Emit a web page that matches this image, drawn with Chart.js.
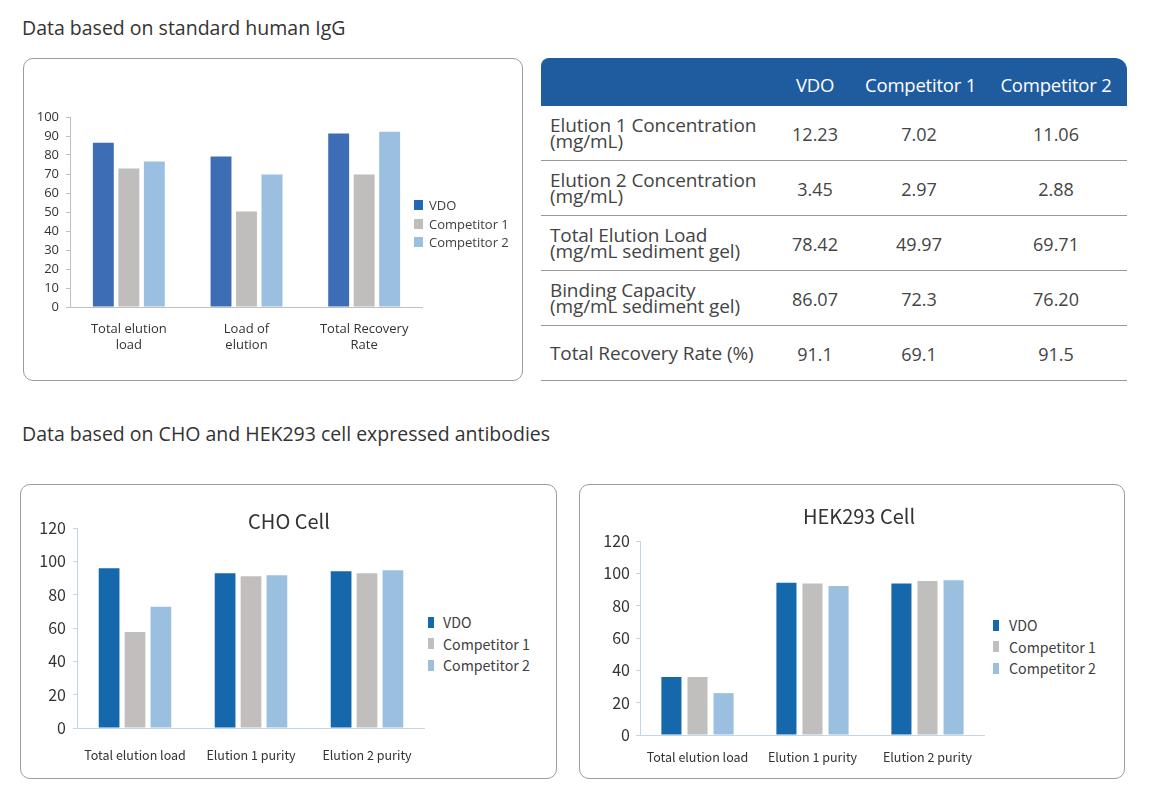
<!DOCTYPE html>
<html>
<head>
<meta charset="utf-8">
<script src="https://cdn.jsdelivr.net/npm/chart.js@4.4.1/dist/chart.umd.min.js"></script>
<style>
  body { margin: 0; background: #fff; width: 1171px; height: 804px; position: relative; overflow: hidden; font-family: "Open Sans", sans-serif; color: #333; }
  .abs { position: absolute; }
  .heading { font-size: 19.5px; color: #333; white-space: nowrap; }
  .box { border: 1px solid #9c9c9c; border-radius: 10px; box-sizing: border-box; }
  .legend div { position: absolute; white-space: nowrap; }
  .legend span { position: absolute; }
  .title { font-family: "Noto Sans CJK SC", sans-serif; font-size: 20px; color: #333; white-space: nowrap; transform: translate(-50%, -50%); }
  table { position: absolute; left: 541px; top: 58px; width: 586px; border-collapse: collapse; table-layout: fixed; font-size: 18px; color: #444; }
  th { background: #1f5b9f; color: #fff; font-weight: normal; height: 44px; text-align: center; padding: 4px 0 0 0; font-size: 18.5px; white-space: nowrap; letter-spacing: -0.2px; }
  th:first-child { border-top-left-radius: 8px; }
  th:last-child { border-top-right-radius: 12px; }
  td { height: 52px; border-bottom: 1px solid #999; padding: 2px 0 0 0; text-align: center; }
  td.lbl { text-align: left; padding: 1px 0 1px 9px; line-height: 16px; white-space: nowrap; font-size: 19px; letter-spacing: -0.1px; }
  td.last { padding-left: 12px; }
</style>
</head>
<body>

<div class="abs heading" style="left:22px; top:14px;">Data based on standard human IgG</div>
<div class="abs heading" style="left:22px; top:420px;">Data based on CHO and HEK293 cell expressed antibodies</div>

<div class="abs box" style="left:23px; top:58px; width:500px; height:323px;"></div>
<div class="abs box" style="left:20px; top:484px; width:537px; height:295px;"></div>
<div class="abs box" style="left:579px; top:484px; width:546px; height:295px;"></div>

<canvas id="igChart" class="abs" width="403" height="260" style="left:20px; top:100px;"></canvas>
<canvas id="choChart" class="abs" width="398" height="270" style="left:27px; top:500px;"></canvas>
<canvas id="hekChart" class="abs" width="395" height="266" style="left:590px; top:511px;"></canvas>

<div class="abs title" style="left:289px; top:520px;">CHO Cell</div>
<div class="abs title" style="left:859px; top:515px;">HEK293 Cell</div>

<div id="igLegend" class="abs legend"></div>
<div id="choLegend" class="abs legend"></div>
<div id="hekLegend" class="abs legend"></div>

<table id="dataTable"></table>

<script>
// series names
const groups = ['VDO', 'Competitor 1', 'Competitor 2'];

// standard human IgG chart
const igCategories = [['Total elution', 'load'], ['Load of', 'elution'], ['Total Recovery', 'Rate']];
const igVdo = [86.5, 79.2, 91.3];
const igComp1 = [72.9, 50.3, 69.8];
const igComp2 = [76.6, 69.8, 92.3];

// CHO cell chart
const cellCategories = ['Total elution load', 'Elution 1 purity', 'Elution 2 purity'];
const choVdo = [95.9, 92.9, 94.1];
const choComp1 = [57.6, 91.1, 92.9];
const choComp2 = [72.8, 91.7, 94.7];

// HEK293 cell chart
const hekVdo = [35.8, 94.1, 93.7];
const hekComp1 = [35.8, 93.7, 95.3];
const hekComp2 = [25.9, 92.2, 95.7];

// table
const tableRows = [
    ['Elution 1 Concentration', '(mg/mL)'],
    ['Elution 2 Concentration', '(mg/mL)'],
    ['Total Elution Load', '(mg/mL sediment gel)'],
    ['Binding Capacity', '(mg/mL sediment gel)'],
    ['Total Recovery Rate (%)']
];
const tableVdo = ['12.23', '3.45', '78.42', '86.07', '91.1'];
const tableComp1 = ['7.02', '2.97', '49.97', '72.3', '69.1'];
const tableComp2 = ['11.06', '2.88', '69.71', '76.20', '91.5'];

const igColors = ['#3d6db4', '#bfbebd', '#9bbfe0'];
const cellColors = ['#1668ad', '#c0bfbe', '#9bbfdf'];

function makeChart(id, labels, series, colors, o) {
    new Chart(document.getElementById(id), {
        type: 'bar',
        data: {
            labels: labels,
            datasets: series.map((d, i) => ({
                label: groups[i],
                data: d,
                backgroundColor: colors[i],
                barPercentage: o.barPct,
                categoryPercentage: o.catPct
            }))
        },
        options: {
            responsive: false,
            animation: false,
            layout: { padding: { top: o.padTop, right: 0, bottom: 0, left: 0 } },
            plugins: { legend: { display: false }, tooltip: { enabled: false } },
            scales: {
                x: {
                    grid: { display: false },
                    border: { display: true, color: o.axisColor },
                    ticks: { color: '#333', font: { family: o.font, size: o.xFont, lineHeight: 1.25 }, padding: o.xPad, maxRotation: 0, autoSkip: false },
                    afterFit: s => { s.height = o.xHeight; }
                },
                y: {
                    min: 0, max: o.max,
                    ticks: { stepSize: o.step, color: '#333', font: { family: o.font, size: o.yFont }, padding: o.yPad },
                    grid: { display: true, drawOnChartArea: false, drawTicks: true, tickLength: 4, color: o.axisColor },
                    border: { display: true, color: o.axisColor },
                    afterFit: s => { s.width = 50; }
                }
            }
        }
    });
}

function makeLegend(id, colors, o) {
    const el = document.getElementById(id);
    el.style.left = o.left + 'px';
    el.style.top = o.top + 'px';
    groups.forEach((g, i) => {
        const row = document.createElement('div');
        row.style.top = (i * o.gap) + 'px';
        row.style.fontFamily = o.font;
        row.style.fontSize = o.size + 'px';
        row.style.color = '#404040';
        row.style.lineHeight = '20px';
        row.style.marginTop = '-10px';
        const sq = document.createElement('span');
        sq.style.cssText = `left:0;top:${10 - o.sqH / 2}px;width:${o.sqW}px;height:${o.sqH}px;background:${colors[i]}`;
        const tx = document.createElement('span');
        tx.style.left = o.textX + 'px';
        tx.style.top = '0px';
        tx.textContent = g;
        row.appendChild(sq);
        row.appendChild(tx);
        el.appendChild(row);
    });
}

makeChart('igChart', igCategories, [igVdo, igComp1, igComp2], igColors, {
    font: 'Open Sans', axisColor: '#bfbfbf', max: 100, step: 10, yFont: 13, yPad: 7, xFont: 13,
    padTop: 17, xHeight: 53, xPad: 6, barPct: 0.82, catPct: 0.65
});
makeChart('choChart', cellCategories, [choVdo, choComp1, choComp2], cellColors, {
    font: 'Noto Sans CJK SC', axisColor: '#c3d6e6', max: 120, step: 20, yFont: 16, yPad: 7, xFont: 12.5,
    padTop: 28, xHeight: 42, xPad: 11, barPct: 0.8, catPct: 0.67
});
makeChart('hekChart', cellCategories, [hekVdo, hekComp1, hekComp2], cellColors, {
    font: 'Noto Sans CJK SC', axisColor: '#c3d6e6', max: 120, step: 20, yFont: 16, yPad: 6, xFont: 12.5,
    padTop: 30, xHeight: 42, xPad: 6, barPct: 0.77, catPct: 0.68
});

makeLegend('igLegend', ['#1f6ab3', igColors[1], igColors[2]], { left: 414, top: 205, gap: 18.5, font: 'Open Sans', size: 13, sqW: 9, sqH: 10, textX: 15 });
makeLegend('choLegend', cellColors, { left: 428, top: 622, gap: 21.5, font: 'Noto Sans CJK SC', size: 14.2, sqW: 6, sqH: 11, textX: 15 });
makeLegend('hekLegend', cellColors, { left: 993, top: 625, gap: 21.5, font: 'Noto Sans CJK SC', size: 14.2, sqW: 6, sqH: 11, textX: 16 });

// table
const table = document.getElementById('dataTable');
let html = '<colgroup><col style="width:224px"><col style="width:100px"><col style="width:108px"><col style="width:154px"></colgroup>';
html += '<tr><th></th>' + groups.map((g, i) => `<th style="${i === 2 ? 'padding-left:12px' : ''}">${g}</th>`).join('') + '</tr>';
tableRows.forEach((r, i) => {
    html += `<tr><td class="lbl">${r.join('<br>')}</td><td>${tableVdo[i]}</td><td>${tableComp1[i]}</td><td class="last">${tableComp2[i]}</td></tr>`;
});
table.innerHTML = html;
</script>
</body>
</html>
